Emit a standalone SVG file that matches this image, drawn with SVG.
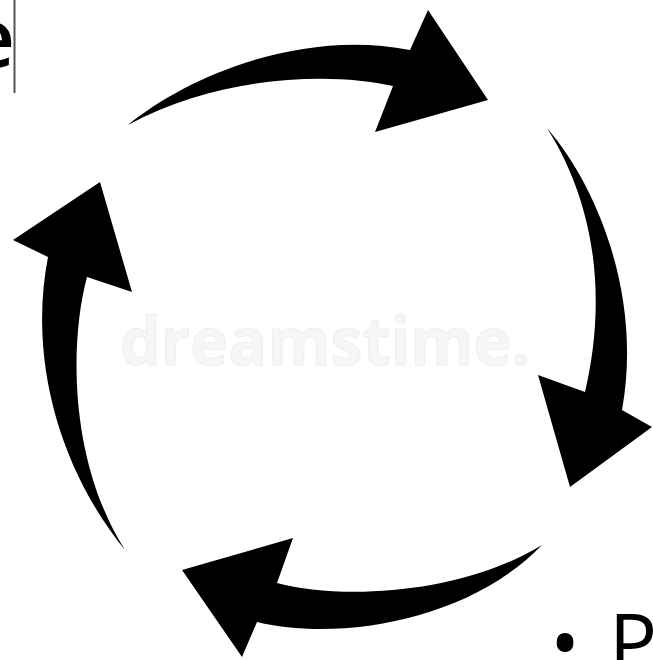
<svg xmlns="http://www.w3.org/2000/svg" width="653" height="660" viewBox="0 0 653 660">
<style>
.arrow{fill:#000;stroke:none}
.lbl{font-family:"Open Sans","Liberation Sans",sans-serif;fill:#000}
.wm{font-family:"Open Sans","Liberation Sans",sans-serif;font-weight:bold;font-size:66px;fill:#f6f6f6;stroke:#eeeeee;stroke-width:1}
</style>
<rect width="653" height="660" fill="#fff"/>
<text class="wm" x="120" y="365" textLength="410" lengthAdjust="spacingAndGlyphs">dreamstime.</text>
<g id="connectors">
<g id="arrow-top"><path class="arrow" d="M128,125 C185,78 300,28 410,50 L428,10 L488,100 L375,132 L393,86 C330,72 220,75 128,125 Z"/></g>
<g id="arrow-right"><path class="arrow" d="M547,128 C600,190 642,300 622,410 L652,427 L570,487 L538,375 L585,392 C602,320 605,220 547,128 Z"/></g>
<g id="arrow-bottom"><path class="arrow" d="M542,545 C470,620 340,642 257,622 L242,657 L182,570 L293,538 L277,583 C340,600 460,595 542,545 Z"/></g>
<g id="arrow-left"><path class="arrow" d="M125,550 C60,470 28,360 48,257 L13,240 L100,182 L132,292 L87,277 C70,340 68,460 125,550 Z"/></g>
</g>
<g id="text-e">
<text class="lbl" x="15" y="67" font-size="82" font-weight="600" text-anchor="end">e</text>
<line x1="14.5" y1="0" x2="14.5" y2="93" stroke="#555" stroke-width="2"/>
</g>
<g id="text-p">
<text class="lbl" x="565" y="672" font-size="80" text-anchor="middle">•</text>
<text class="lbl" x="609" y="672" font-size="80">P</text>
</g>
</svg>
